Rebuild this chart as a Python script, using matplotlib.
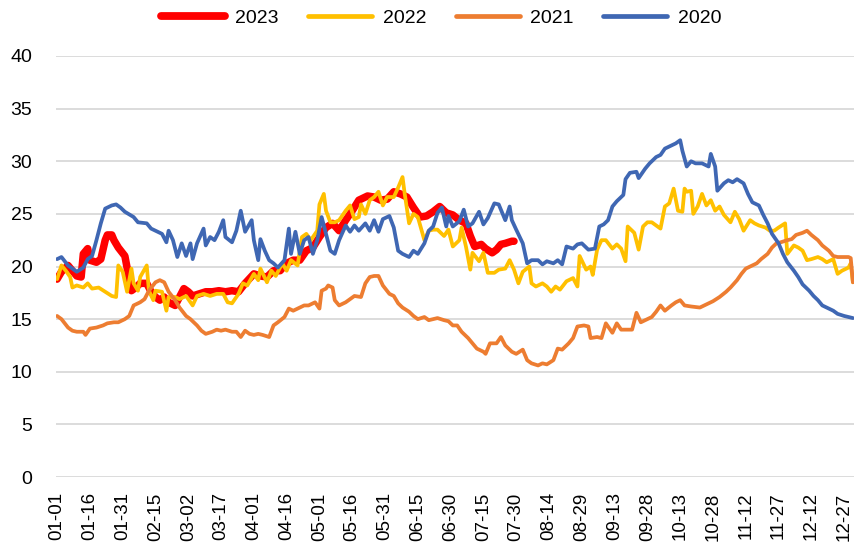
import matplotlib
matplotlib.use("Agg")
import matplotlib.pyplot as plt
import pandas as pd

plt.rcParams['font.family'] = ['Liberation Sans', 'DejaVu Sans']

# categories: every day of the year (MM-DD)
dates = pd.date_range("2023-01-01", "2023-12-31", freq="D").strftime("%m-%d").tolist()
tick_step = 15
tick_labels = dates[::tick_step]
y_ticks = [0, 5, 10, 15, 20, 25, 30, 35, 40]

# (day index, value) readings per year
s2023 = [(0,18.8),(2,19.5),(5,20.1),(7,19.6),(9,19.1),(11,19.0),(12,21.2),(14,21.7),(15,20.6),
         (18,20.4),(20,20.7),(22,22.5),(23,23.0),(25,23.0),(26,22.5),(28,21.8),(31,21.0),(32,19.9),
         (34,17.7),(36,18.0),(38,18.4),(41,18.4),(43,17.6),(45,17.1),(47,16.8),(49,17.1),(51,16.6),
         (54,16.3),(56,17.1),(58,17.9),(60,17.6),(62,17.2),(65,17.4),(68,17.6),(71,17.6),(74,17.7),
         (77,17.6),(80,17.7),(83,17.6),(86,18.4),(90,19.3),(93,19.1),(96,19.0),(99,19.6),(102,19.6),
         (105,20.3),(108,20.6),(111,20.6),(114,21.5),(117,21.8),(120,22.8),(123,23.7),(126,24.1),
         (129,23.4),(132,24.4),(135,25.3),(138,26.3),(142,26.7),(145,26.6),(148,26.3),(151,26.4),
         (154,27.1),(157,26.9),(160,26.6),(163,25.6),(166,24.7),(169,24.8),(172,25.2),(175,25.7),
         (178,25.1),(181,24.9),(184,24.4),(187,24.1),(189,22.9),(191,21.9),(194,22.1),(196,21.7),
         (199,21.3),(201,21.6),(203,22.1),(205,22.2),(208,22.4),(209,22.4)]

s2022 = [(0,18.8),(2,20.1),(4,19.6),(6,19.0),(7,18.0),(9,18.2),(12,18.0),(14,18.4),(16,17.9),
         (19,18.0),(22,17.6),(25,17.2),(27,17.1),(28,20.1),(30,19.5),(32,17.6),(34,19.8),(35,18.4),
         (37,17.7),(38,19.0),(41,20.1),(42,17.7),(44,16.8),(45,17.7),(48,17.6),(50,15.8),(51,17.1),
         (54,17.1),(56,16.9),(59,17.2),(62,16.3),(64,17.2),(67,17.4),(70,17.2),(73,17.4),(76,17.4),
         (78,16.6),(80,16.5),(83,17.4),(85,18.4),(87,18.2),(90,19.3),(92,18.7),(93,19.8),(96,18.5),
         (98,19.6),(100,19.1),(103,20.3),(105,19.6),(107,20.6),(110,20.1),(112,22.8),(114,23.1),
         (116,22.5),(119,23.4),(120,25.9),(122,26.9),(123,25.3),(125,24.2),(127,24.2),(129,24.4),
         (132,25.3),(134,25.8),(136,24.5),(138,24.7),(139,25.9),(141,25.0),(143,26.3),(145,26.6),
         (147,27.1),(149,25.8),(151,26.6),(154,26.6),(156,27.5),(158,28.5),(159,26.9),(161,24.1),
         (163,25.0),(165,24.7),(168,22.5),(170,23.4),(172,23.5),(174,23.5),(177,22.9),(179,23.5),
         (181,21.9),(184,22.5),(185,23.7),(187,21.9),(189,19.7),(190,21.3),(193,20.5),(195,21.3),
         (197,19.4),(200,19.4),(202,19.7),(205,19.8),(207,20.6),(209,19.7),(211,18.4),(213,19.5),
         (216,20.0),(217,18.4),(219,18.1),(222,18.4),(224,18.1),(226,17.6),(228,18.1),(230,17.8),
         (233,18.6),(236,18.9),(238,18.1),(239,21.0),(242,19.7),(244,20.0),(245,19.2),(247,21.6),
         (249,22.5),(251,22.5),(254,21.7),(256,22.1),(258,21.7),(260,20.5),(261,23.8),(264,23.2),
         (266,21.6),(268,23.8),(270,24.2),(272,24.2),(274,23.9),(276,23.6),(278,25.7),(280,26.0),
         (282,27.4),(284,25.3),(286,25.2),(287,27.4),(288,27.1),(290,27.2),(291,25.0),(293,25.7),
         (295,26.9),(297,25.8),(299,26.3),(301,25.3),(303,25.7),(305,24.9),(308,24.2),(310,25.2),
         (312,24.5),(314,23.4),(317,24.4),(319,24.1),(321,23.9),(324,23.7),(326,23.4),(328,23.4),
         (330,23.7),(333,24.1),(334,21.2),(337,22.0),(339,21.8),(341,21.5),(343,20.6),(345,20.7),
         (348,20.9),(350,20.7),(352,20.4),(355,20.7),(357,19.3),(359,19.6),(362,19.9),(363,20.3),
         (364,18.5)]

s2021 = [(0,15.3),(2,15.0),(5,14.2),(7,13.9),(9,13.8),(12,13.8),(13,13.5),(15,14.1),(18,14.2),
         (21,14.4),(23,14.6),(26,14.7),(28,14.7),(31,15.0),(33,15.3),(35,16.3),(38,16.6),(40,16.9),
         (42,17.7),(45,18.5),(47,18.7),(49,18.5),(51,17.6),(54,16.8),(56,16.1),(59,15.3),(61,15.0),
         (64,14.4),(66,13.9),(68,13.6),(71,13.8),(73,14.0),(75,13.9),(77,14.0),(80,13.8),(82,13.8),
         (84,13.3),(86,13.9),(88,13.6),(90,13.5),(92,13.6),(94,13.5),(97,13.3),(99,14.4),(101,14.7),
         (104,15.2),(106,16.0),(108,15.8),(111,16.1),(113,16.3),(115,16.3),(118,16.6),(120,16.0),
         (121,17.7),(123,17.9),(124,18.2),(126,18.0),(127,16.8),(129,16.3),(132,16.6),(134,16.9),
         (136,17.2),(139,17.1),(141,18.4),(143,19.0),(145,19.1),(147,19.1),(149,18.2),(152,17.4),
         (154,17.2),(156,16.5),(158,16.1),(161,15.7),(163,15.3),(165,15.0),(168,15.2),(170,14.9),
         (172,15.0),(174,15.1),(177,14.9),(179,14.8),(181,14.4),(183,14.4),(185,13.8),(188,13.2),
         (190,12.7),(192,12.2),(195,11.9),(196,11.7),(198,12.7),(201,12.7),(203,13.3),(205,12.5),
         (208,11.9),(210,11.7),(213,12.1),(215,11.1),(217,10.8),(220,10.6),(222,10.8),(224,10.7),
         (227,11.1),(229,12.2),(231,12.1),(234,12.7),(236,13.2),(238,14.3),(241,14.4),(243,14.3),
         (244,13.2),(247,13.3),(249,13.2),(251,14.6),(254,13.7),(256,14.6),(258,14.0),(260,14.0),
         (263,14.0),(265,15.6),(267,14.7),(270,15.0),(272,15.2),(274,15.7),(276,16.3),(278,15.8),
         (281,16.3),(283,16.6),(285,16.8),(287,16.3),(290,16.2),(294,16.1),(297,16.4),(300,16.7),
         (303,17.1),(306,17.6),(308,18.0),(311,18.7),(313,19.3),(315,19.8),(318,20.1),(320,20.3),
         (322,20.7),(325,21.2),(327,21.8),(329,22.2),(331,22.3),(334,22.5),(336,22.6),(338,23.0),
         (341,23.2),(343,23.4),(345,23.0),(348,22.5),(350,22.0),(353,21.5),(355,21.0),(357,20.9),
         (360,20.9),(362,20.9),(363,20.8),(364,18.5)]

s2020 = [(0,20.7),(2,20.9),(5,20.1),(7,19.8),(9,19.5),(12,19.9),(14,20.7),(16,21.0),(18,22.5),
         (20,24.1),(22,25.5),(25,25.8),(27,25.9),(29,25.6),(31,25.2),(35,24.7),(37,24.2),(41,24.1),
         (43,23.6),(45,23.4),(48,23.1),(50,22.3),(51,23.4),(53,22.5),(55,20.9),(57,22.2),(59,21.0),
         (61,22.2),(62,20.7),(64,22.2),(67,23.6),(68,22.0),(70,22.8),(72,22.5),(74,23.3),(76,24.4),
         (77,22.8),(80,22.3),(82,23.4),(84,25.3),(86,23.3),(89,24.4),(90,22.5),(92,20.6),(93,22.6),
         (95,21.5),(97,20.6),(99,20.3),(101,19.9),(104,20.6),(106,23.6),(107,21.2),(109,23.3),
         (111,21.2),(113,22.5),(115,22.8),(117,21.2),(119,22.5),(121,24.7),(123,23.1),(125,21.5),
         (127,21.2),(129,22.5),(132,23.9),(134,23.3),(136,23.9),(138,23.4),(141,24.1),(143,23.4),
         (145,24.4),(147,23.3),(149,24.5),(152,24.8),(154,23.7),(156,21.5),(158,21.2),(161,20.9),
         (163,21.5),(165,21.2),(168,22.2),(170,23.4),(172,23.8),(174,25.1),(176,25.6),(178,23.8),
         (179,24.8),(181,23.8),(184,24.3),(186,25.4),(188,23.8),(190,24.1),(193,25.2),(195,24.0),
         (197,24.6),(200,26.0),(202,25.9),(205,24.4),(207,25.7),(208,24.4),(210,23.5),(213,22.2),
         (215,20.3),(217,20.6),(220,20.6),(222,20.2),(224,20.5),(227,20.3),(229,20.6),(231,20.2),
         (233,21.9),(236,21.7),(238,22.1),(240,22.2),(243,21.6),(246,21.7),(248,23.8),(250,24.0),
         (252,24.4),(254,25.7),(256,26.2),(259,26.8),(260,28.3),(262,28.9),(265,29.0),(266,28.4),
         (269,29.3),(271,29.8),(274,30.4),(276,30.6),(278,31.2),(281,31.5),(283,31.7),(285,32.0),
         (286,31.0),(288,29.5),(290,30.0),(292,29.8),(295,29.8),(297,29.6),(298,29.5),(299,30.7),
         (301,29.5),(302,27.2),(305,27.9),(307,28.2),(309,28.0),(311,28.3),(314,27.9),(316,26.9),
         (318,26.1),(321,25.8),(323,24.9),(325,24.1),(327,23.1),(330,22.2),(332,21.2),(334,20.4),
         (337,19.6),(339,19.0),(341,18.3),(344,17.7),(346,17.2),(348,16.8),(350,16.3),(353,16.0),
         (355,15.8),(357,15.5),(360,15.3),(362,15.2),(364,15.1)]

series_names = ["2023", "2022", "2021", "2020"]
series_data = [s2023, s2022, s2021, s2020]
colors = ["#FF0000", "#FFC000", "#ED7D31", "#3F67B3"]
widths = [5.4, 2.7, 2.7, 2.7]
legend_widths = [5.6, 3.4, 3.4, 3.4]

fig = plt.figure(figsize=(8.65, 5.51), dpi=100)
ax = fig.add_axes([56/865, 1-477/551, (854-56)/865, (477-56)/551])

for name, data, c, w in zip(series_names, series_data, colors, widths):
    xs = [d for d, v in data]
    ys = [v for d, v in data]
    ax.plot(xs, ys, color=c, lw=w, label=name, solid_capstyle='round', solid_joinstyle='round')

ax.set_ylim(0, 40)
ax.set_yticks(y_ticks)
ax.set_xlim(-0.5, len(dates) - 0.5)
ax.set_xticks(range(0, len(dates), tick_step))
ax.set_xticklabels(tick_labels, rotation=90)
for s in ax.spines.values():
    s.set_visible(False)
ax.yaxis.grid(True, color="#D9D9D9", lw=1.3)
ax.set_axisbelow(True)
ax.tick_params(axis='y', length=0, pad=17, labelsize=14, colors='#000000')
ax.tick_params(axis='x', length=0, pad=11, labelsize=13.5, colors='#000000')

leg = fig.legend(loc='center', bbox_to_anchor=(441/865, 1-18/551), ncol=4, frameon=False,
                 fontsize=14, handlelength=3.3, handletextpad=0.55, columnspacing=1.5)
for h, w in zip(leg.get_lines(), legend_widths):
    h.set_linewidth(w)
    h.set_solid_capstyle('round')

fig.savefig("out.png", dpi=100)
